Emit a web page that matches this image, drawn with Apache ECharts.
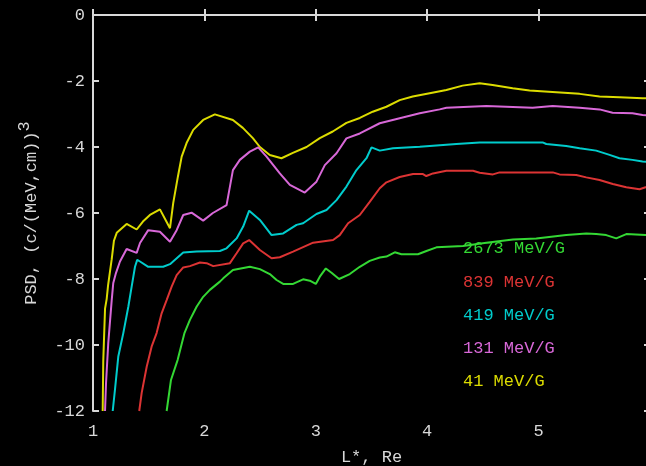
<!DOCTYPE html>
<html>
<head>
<meta charset="utf-8">
<script src="https://cdn.jsdelivr.net/npm/echarts@6/dist/echarts.min.js"></script>
<style>
  html, body { margin: 0; padding: 0; background: #000; }
  #chart { width: 646px; height: 466px; }
</style>
</head>
<body>
<div id="chart"></div>
<script>
// phase space density vs L*, one curve per mu value
var energies = ['41 MeV/G', '131 MeV/G', '419 MeV/G', '839 MeV/G', '2673 MeV/G'];
var colors = ['#dcdc00', '#d868d8', '#00cccc', '#dc3434', '#34d834'];

var l41 = [1.087, 1.092, 1.108, 1.123, 1.135, 1.168, 1.188, 1.213, 1.302, 1.392, 1.448, 1.511, 1.601, 1.691, 1.720,
  1.762, 1.796, 1.840, 1.900, 1.989, 2.094, 2.109, 2.256, 2.345, 2.435, 2.498, 2.587, 2.692, 2.794, 2.917,
  3.036, 3.152, 3.275, 3.395, 3.511, 3.634, 3.753, 3.870, 4.022, 4.172, 4.318, 4.471, 4.587, 4.767, 4.919,
  5.159, 5.368, 5.547, 5.726, 5.933, 6.0];
var psd41 = [-12, -10.5, -8.9, -8.6, -8.2, -7.4, -6.84, -6.6, -6.33, -6.5, -6.26, -6.06, -5.89, -6.46, -5.7,
  -4.9, -4.29, -3.88, -3.48, -3.18, -3.01, -3.0, -3.18, -3.42, -3.73, -4.0, -4.24, -4.34, -4.18, -4.0,
  -3.73, -3.53, -3.27, -3.12, -2.93, -2.78, -2.58, -2.47, -2.37, -2.27, -2.14, -2.07, -2.12, -2.22, -2.29,
  -2.34, -2.39, -2.47, -2.49, -2.52, -2.53];

var l131 = [1.108, 1.117, 1.137, 1.168, 1.182, 1.206, 1.242, 1.302, 1.392, 1.422, 1.496, 1.601, 1.691, 1.751, 1.810,
  1.885, 1.989, 2.076, 2.199, 2.256, 2.318, 2.408, 2.483, 2.558, 2.677, 2.767, 2.901, 3.006, 3.081, 3.186,
  3.275, 3.395, 3.574, 3.753, 3.933, 4.112, 4.172, 4.531, 4.946, 5.126, 5.368, 5.547, 5.664, 5.843, 5.933, 6.0];
var psd131 = [-12, -11.15, -9.94, -8.64, -8.12, -7.82, -7.47, -7.09, -7.21, -6.91, -6.52, -6.57, -6.87, -6.52, -6.06,
  -5.99, -6.23, -6.0, -5.76, -4.7, -4.39, -4.14, -4.01, -4.29, -4.8, -5.15, -5.38, -5.05, -4.55, -4.19,
  -3.74, -3.59, -3.28, -3.13, -2.98, -2.86, -2.81, -2.76, -2.81, -2.76, -2.81, -2.86, -2.96, -2.98, -3.03, -3.05];

var l419 = [1.177, 1.197, 1.227, 1.272, 1.317, 1.347, 1.377, 1.397, 1.422, 1.496, 1.630, 1.691, 1.810, 1.930, 2.139,
  2.199, 2.289, 2.348, 2.402, 2.498, 2.603, 2.707, 2.827, 2.886, 3.006, 3.096, 3.186, 3.275, 3.365, 3.455,
  3.500, 3.574, 3.693, 3.933, 4.262, 4.471, 5.036, 5.069, 5.248, 5.368, 5.517, 5.637, 5.726, 5.843, 5.933, 6.0];
var psd419 = [-12, -11.36, -10.35, -9.64, -8.84, -8.23, -7.63, -7.42, -7.47, -7.63, -7.63, -7.55, -7.2, -7.17, -7.15,
  -7.07, -6.77, -6.41, -5.93, -6.21, -6.67, -6.62, -6.36, -6.31, -6.03, -5.91, -5.61, -5.2, -4.7, -4.34,
  -4.01, -4.11, -4.04, -3.99, -3.91, -3.86, -3.86, -3.91, -3.97, -4.04, -4.11, -4.24, -4.34, -4.39, -4.44, -4.46];

var l839 = [1.415, 1.437, 1.482, 1.526, 1.571, 1.616, 1.661, 1.706, 1.751, 1.810, 1.870, 1.960, 2.020, 2.079, 2.229,
  2.289, 2.348, 2.402, 2.498, 2.603, 2.677, 2.796, 2.976, 3.155, 3.215, 3.290, 3.395, 3.484, 3.574, 3.634,
  3.753, 3.873, 3.962, 3.992, 4.052, 4.172, 4.411, 4.471, 4.590, 4.650, 5.128, 5.188, 5.338, 5.428, 5.547,
  5.666, 5.787, 5.906, 5.960, 6.0];
var psd839 = [-12, -11.45, -10.66, -10.05, -9.64, -9.04, -8.64, -8.23, -7.88, -7.65, -7.61, -7.5, -7.52, -7.61, -7.52,
  -7.22, -6.92, -6.82, -7.12, -7.37, -7.34, -7.17, -6.9, -6.82, -6.67, -6.31, -6.06, -5.66, -5.25, -5.07,
  -4.91, -4.82, -4.82, -4.88, -4.8, -4.72, -4.72, -4.78, -4.83, -4.77, -4.77, -4.83, -4.85, -4.92, -5.0,
  -5.12, -5.22, -5.28, -5.22, -5.22];

var l2673 = [1.661, 1.700, 1.760, 1.820, 1.870, 1.930, 1.989, 2.049, 2.139, 2.169, 2.256, 2.408, 2.498, 2.587, 2.648,
  2.707, 2.796, 2.886, 2.946, 3.000, 3.036, 3.090, 3.141, 3.209, 3.305, 3.395, 3.484, 3.574, 3.634, 3.709,
  3.769, 3.917, 3.993, 4.083, 4.321, 4.531, 4.770, 4.979, 5.248, 5.428, 5.517, 5.607, 5.697, 5.787, 5.960, 6.0];
var psd2673 = [-12, -11.06, -10.45, -9.65, -9.24, -8.84, -8.54, -8.33, -8.08, -7.98, -7.73, -7.63, -7.7, -7.85, -8.03,
  -8.15, -8.15, -8.01, -8.05, -8.15, -7.93, -7.68, -7.81, -8.0, -7.85, -7.63, -7.45, -7.35, -7.32, -7.19,
  -7.25, -7.25, -7.15, -7.04, -7.0, -6.9, -6.8, -6.77, -6.67, -6.62, -6.64, -6.67, -6.77, -6.64, -6.67, -6.67];

var xTicks = [1, 6, 1];     // min, max, interval
var yTicks = [-12, 0, 2];

var FONT = 'Liberation Mono';
var AXIS = '#d8d8d8';

function pairs(xs, ys) {
    return xs.map(function (x, i) { return [x, ys[i]]; });
}

var allL = [l41, l131, l419, l839, l2673];
var allPsd = [psd41, psd131, psd419, psd839, psd2673];

var chart = echarts.init(document.getElementById('chart'), null, { renderer: 'canvas' });

var axisCommon = {
    type: 'value',
    axisLine: { show: true, lineStyle: { color: AXIS, width: 2 } },
    axisTick: { show: true, inside: true, length: 6, lineStyle: { color: AXIS, width: 2 } },
    splitLine: { show: false },
    axisLabel: { color: AXIS, fontFamily: FONT, fontSize: 17 }
};

// labels stacked in the lower right of the plot, highest energy first
var labelTops = [381, 348, 315, 282, 248];
var labels = energies.map(function (name, i) {
    return {
        type: 'text',
        x: 463,
        y: labelTops[i],
        style: { text: name, fill: colors[i], font: '17px "' + FONT + '"', verticalAlign: 'middle' },
        z: 100
    };
});

chart.setOption({
    backgroundColor: '#000',
    animation: false,
    grid: { left: 93, top: 15, width: 557, height: 396, outerBoundsMode: 'none', containLabel: false },
    xAxis: [
        Object.assign({}, axisCommon, {
            min: xTicks[0], max: xTicks[1], interval: xTicks[2],
            axisLabel: { color: AXIS, fontFamily: FONT, fontSize: 17, margin: 12 },
            name: 'L*, Re', nameLocation: 'middle', nameGap: 38,
            nameTextStyle: { color: AXIS, fontFamily: FONT, fontSize: 17 }
        }),
        Object.assign({}, axisCommon, {
            position: 'top', min: xTicks[0], max: xTicks[1], interval: xTicks[2],
            axisLabel: { show: false }
        })
    ],
    yAxis: [
        Object.assign({}, axisCommon, {
            min: yTicks[0], max: yTicks[1], interval: yTicks[2],
            axisLabel: { color: AXIS, fontFamily: FONT, fontSize: 17, margin: 8 },
            name: 'PSD, (c/(MeV,cm)){sup|3}', nameLocation: 'middle', nameGap: 46, nameRotate: 90,
            nameTextStyle: {
                color: AXIS, fontFamily: FONT, fontSize: 17,
                rich: { sup: { color: AXIS, fontFamily: FONT, fontSize: 17, padding: [0, 0, 14, 0] } }
            }
        }),
        Object.assign({}, axisCommon, {
            position: 'right', min: yTicks[0], max: yTicks[1], interval: yTicks[2],
            axisLabel: { show: false }
        })
    ],
    series: energies.map(function (name, i) {
        return {
            name: name,
            type: 'line',
            data: pairs(allL[i], allPsd[i]),
            showSymbol: false,
            lineStyle: { color: colors[i], width: 2 },
            clip: true
        };
    }),
    graphic: labels
});
</script>
</body>
</html>
